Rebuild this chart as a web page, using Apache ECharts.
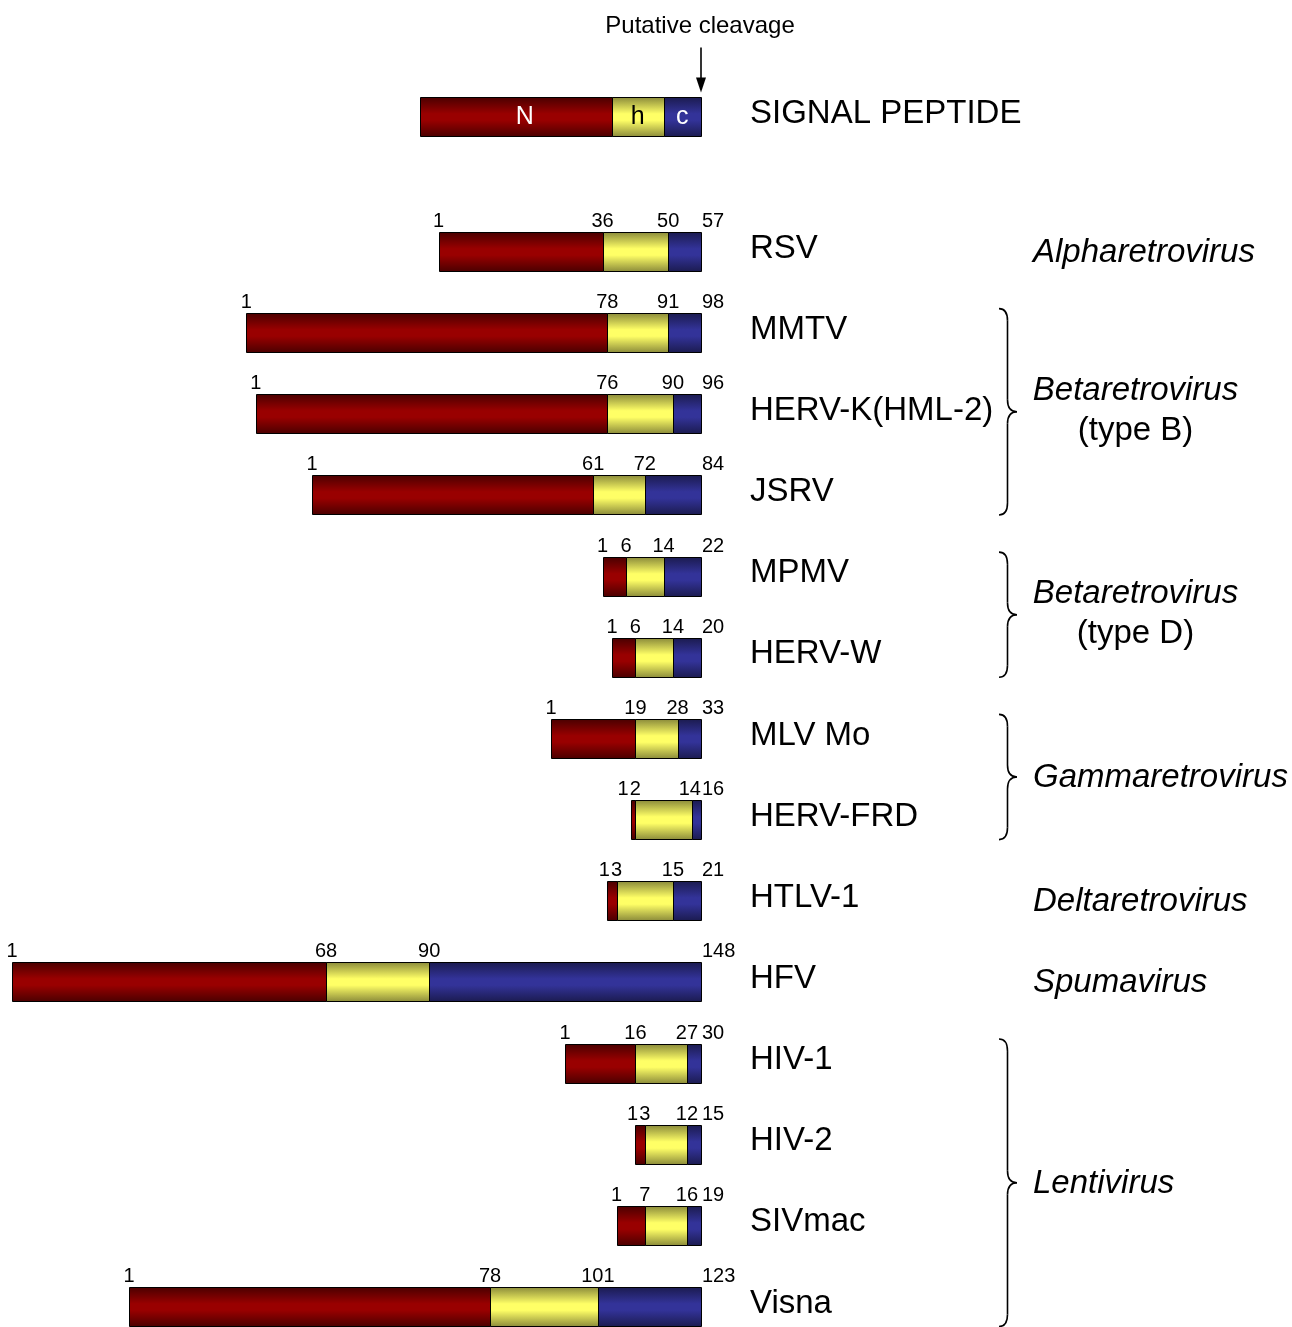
<!DOCTYPE html>
<html>
<head>
<meta charset="utf-8">
<script src="https://cdn.jsdelivr.net/npm/echarts@6/dist/echarts.min.js"></script>
<style>
html, body { margin: 0; padding: 0; background: #ffffff; }
#chart { width: 1292px; height: 1327px; }
</style>
</head>
<body>
<div id="chart"></div>
<script>
// ---------------- data ----------------
const virusNames = ['RSV', 'MMTV', 'HERV-K(HML-2)', 'JSRV', 'MPMV', 'HERV-W', 'MLV Mo', 'HERV-FRD',
  'HTLV-1', 'HFV', 'HIV-1', 'HIV-2', 'SIVmac', 'Visna'];
// first residue of the h-region, first residue of the c-region, last residue (cleavage)
const hStart   = [36, 78, 76, 61,  6,  6, 19,  2,  3,  68, 16,  3,  7,  78];
const cStart   = [50, 91, 90, 72, 14, 14, 28, 14, 15,  90, 27, 12, 16, 101];
const totalLen = [57, 98, 96, 84, 22, 20, 33, 16, 21, 148, 30, 15, 19, 123];

const familyNames     = ['Alpharetrovirus', 'Betaretrovirus', 'Betaretrovirus', 'Gammaretrovirus',
  'Deltaretrovirus', 'Spumavirus', 'Lentivirus'];
const familySubtitles = ['', '(type B)', '(type D)', '', '', '', ''];
const familyFirstRow  = [0, 1, 4, 6, 8, 9, 10];
const familyLastRow   = [0, 3, 5, 7, 8, 9, 13];

const signalRegions = ['N', 'h', 'c'];
const signalLengths = [41, 11, 8];   // schematic signal peptide
const signalLabel = 'SIGNAL PEPTIDE';
const cleavageLabel = 'Putative cleavage';

// ---------------- rendering ----------------
const FONT = '"Liberation Sans", Arial, Helvetica, sans-serif';
const BAR_H = 39;
const EDGE = ['#4a0000', '#8a8a3a', '#1b1b4f'];
const MID  = ['#990000', '#ffff66', '#333399'];
function grad(i) {
  return new echarts.graphic.LinearGradient(0, 0, 0, 1, [
    { offset: 0, color: EDGE[i] },
    { offset: 0.42, color: MID[i] },
    { offset: 0.58, color: MID[i] },
    { offset: 1, color: EDGE[i] }
  ]);
}
function px(v) { return Math.round(v) + 0.5; }
function segRect(x0, x1, top, i) {
  const a = px(x0), b = px(x1);
  return {
    type: 'rect',
    shape: { x: a, y: top, width: b - a, height: BAR_H },
    style: { fill: grad(i), stroke: '#000', lineWidth: 1 }
  };
}
function txt(text, x, y, size, opts) {
  return {
    type: 'text',
    style: Object.assign({
      text: String(text), x: x, y: y, fill: '#000', fontSize: size, fontFamily: FONT,
      align: 'left', verticalAlign: 'middle'
    }, opts || {})
  };
}
const DIGIT_W = 11.2;
function wOf(s) { return String(s).length * DIGIT_W; }

function renderVirus(params, api) {
  const row = api.value(1), tot = api.value(2), h = api.value(3), c = api.value(4);
  const xL = api.coord([1 - tot, row])[0];
  const xH = api.coord([h - tot, row])[0];
  const xC = api.coord([c - tot, row])[0];
  const pEnd = api.coord([0, row]);
  const xR = pEnd[0], yc = pEnd[1];
  const top = px(yc - BAR_H / 2);
  const children = [
    segRect(xL, xH, top, 0),
    segRect(xH, xC, top, 1),
    segRect(xC, xR, top, 2)
  ];
  // number labels at the region boundaries
  const labs = ['1', String(h), String(c)];
  const lx = [xL, xH, xC];
  const lastLeft = xR + 1;
  if (lx[2] + wOf(labs[2]) / 2 + 1 > lastLeft) lx[2] = lastLeft - 1 - wOf(labs[2]) / 2;
  for (let i = 1; i >= 0; i--) {
    const need = lx[i + 1] - (wOf(labs[i + 1]) / 2 + wOf(labs[i]) / 2 + 1);
    if (lx[i] > need) lx[i] = need;
  }
  const ly = top - 11;
  for (let i = 0; i < 3; i++) children.push(txt(labs[i], lx[i], ly, 20, { align: 'center' }));
  children.push(txt(String(tot), lastLeft, ly, 20));
  // virus name
  children.push(txt(virusNames[row], xR + 49, yc - 3, 33));
  return { type: 'group', children: children };
}

function renderFamily(params, api) {
  const first = api.value(1), last = api.value(2), i = api.value(3);
  const yA = api.coord([0, first])[1];
  const yB = api.coord([0, last])[1];
  const children = [];
  let mid;
  if (last > first) {
    const top = yA - 24, bot = yB + 20;
    mid = (top + bot) / 2;
    const x0 = 999, x1 = 1007.5, x2 = 1017, r = 12;
    const ls = { stroke: '#000', lineWidth: 1.6, fill: null };
    children.push(
      { type: 'bezierCurve', shape: { x1: x0, y1: top, x2: x1, y2: top + r, cpx1: x1, cpy1: top }, style: ls },
      { type: 'line', shape: { x1: x1, y1: top + r, x2: x1, y2: mid - r }, style: ls },
      { type: 'bezierCurve', shape: { x1: x1, y1: mid - r, x2: x2, y2: mid, cpx1: x1, cpy1: mid }, style: ls },
      { type: 'bezierCurve', shape: { x1: x2, y1: mid, x2: x1, y2: mid + r, cpx1: x1, cpy1: mid }, style: ls },
      { type: 'line', shape: { x1: x1, y1: mid + r, x2: x1, y2: bot - r }, style: ls },
      { type: 'bezierCurve', shape: { x1: x1, y1: bot - r, x2: x0, y2: bot, cpx1: x1, cpy1: bot }, style: ls }
    );
    mid += 1;
  } else {
    mid = yA + 1;
  }
  if (familySubtitles[i]) {
    children.push(txt(familyNames[i], 1135.5, mid - 22, 33, { align: 'center', fontStyle: 'italic' }));
    children.push(txt(familySubtitles[i], 1135.5, mid + 18, 33, { align: 'center' }));
  } else {
    children.push(txt(familyNames[i], 1033, mid, 33, { fontStyle: 'italic' }));
  }
  return { type: 'group', children: children };
}

function renderSignal(params, api) {
  const total = signalLengths.reduce((a, b) => a + b, 0);
  const pEnd = api.coord([0, 0]);
  const xR = pEnd[0], yc = pEnd[1];
  const top = px(yc - BAR_H / 2);
  const children = [];
  let acc = -total;
  const textFill = ['#ffffff', '#000000', '#ffffff'];
  const textShift = [9, 0, 0];
  for (let i = 0; i < signalLengths.length; i++) {
    const a = api.coord([acc, 0])[0];
    const b = api.coord([acc + signalLengths[i], 0])[0];
    children.push(segRect(a, b, top, i));
    children.push(txt(signalRegions[i], (a + b) / 2 + textShift[i], yc + 1, 25, { align: 'center', fill: textFill[i] }));
    acc += signalLengths[i];
  }
  children.push(txt(signalLabel, xR + 49, yc - 2.5, 33));
  // cleavage arrow
  children.push({ type: 'line', shape: { x1: xR, y1: top - 50, x2: xR, y2: top - 18 },
    style: { stroke: '#000', lineWidth: 1.6 } });
  children.push({ type: 'polygon', shape: { points: [[xR - 5, top - 20], [xR + 5, top - 20], [xR, top - 5]] },
    style: { fill: '#000' } });
  children.push(txt(cleavageLabel, xR - 1, top - 71, 24, { align: 'center' }));
  return { type: 'group', children: children };
}

const xMin = -(Math.max.apply(null, totalLen) - 1);

const chart = echarts.init(document.getElementById('chart'), null, { renderer: 'canvas' });
chart.setOption({
  animation: false,
  backgroundColor: '#ffffff',
  grid: [
    { left: 12, right: 591, top: 97, height: 39 },
    { left: 12, right: 591, top: 251.5, height: 1055 }
  ],
  xAxis: [
    { gridIndex: 0, type: 'value', min: xMin, max: 0, show: false },
    { gridIndex: 1, type: 'value', min: xMin, max: 0, show: false }
  ],
  yAxis: [
    { gridIndex: 0, type: 'category', data: [signalLabel], show: false },
    { gridIndex: 1, type: 'category', data: virusNames, inverse: true, boundaryGap: false, show: false }
  ],
  series: [
    {
      type: 'custom', xAxisIndex: 0, yAxisIndex: 0, silent: true, clip: false,
      renderItem: renderSignal,
      data: [[0, 0]]
    },
    {
      type: 'custom', xAxisIndex: 1, yAxisIndex: 1, silent: true, clip: false,
      renderItem: renderVirus,
      data: virusNames.map((n, i) => [0, i, totalLen[i], hStart[i], cStart[i]])
    },
    {
      type: 'custom', xAxisIndex: 1, yAxisIndex: 1, silent: true, clip: false,
      renderItem: renderFamily,
      data: familyNames.map((f, i) => [0, familyFirstRow[i], familyLastRow[i], i])
    }
  ]
});
</script>
</body>
</html>
